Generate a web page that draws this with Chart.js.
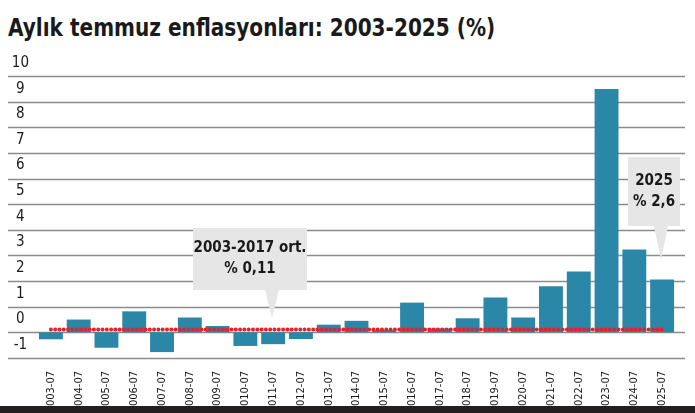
<!DOCTYPE html>
<html><head><meta charset="utf-8">
<script src="https://cdn.jsdelivr.net/npm/chart.js@4"></script>
<style>
html,body{margin:0;padding:0;background:#fff;width:695px;height:413px;overflow:hidden}
#t{position:absolute;left:8px;top:14px;font:bold 24px 'DejaVu Sans Condensed',sans-serif;color:#1a1a1a;transform:scaleX(0.93);transform-origin:left top;white-space:nowrap}
#wrap{position:absolute;left:0;top:0;width:695px;height:406px}
#bar{position:absolute;left:0;top:406px;width:695px;height:7px;background:#231f20}
</style></head><body>
<div id="t">Aylık temmuz enflasyonları: 2003-2025 (%)</div>
<div id="wrap"><canvas id="c"></canvas></div>
<div id="bar"></div>
<script>
const categories=["2003-07","2004-07","2005-07","2006-07","2007-07","2008-07","2009-07","2010-07","2011-07","2012-07","2013-07","2014-07","2015-07","2016-07","2017-07","2018-07","2019-07","2020-07","2021-07","2022-07","2023-07","2024-07","2025-07"];
const monthlyInflation=[-0.27,0.5,-0.6,0.82,-0.77,0.58,0.25,-0.53,-0.46,-0.26,0.3,0.45,0.09,1.16,0.15,0.55,1.36,0.58,1.8,2.37,9.49,3.23,2.06];
const average=categories.map(()=>0.11);
const yTicks=[-1,0,1,2,3,4,5,6,7,8,9,10];
const font="'DejaVu Sans Condensed',sans-serif";

const deco={id:'deco',
 beforeDatasetsDraw(ch){const c=ch.ctx,y=ch.scales.y;c.save();c.strokeStyle='#8c8c8c';c.lineWidth=1.3;
  yTicks.forEach(v=>{const p=Math.round(y.getPixelForValue(v))+0.5;c.beginPath();c.moveTo(8,p);c.lineTo(685,p);c.stroke();});c.restore();},
 afterDatasetsDraw(ch){const c=ch.ctx;c.save();
  function box(x,y,w,h,tx,ty,lines){c.fillStyle='#e6e6e6';c.fillRect(x,y,w,h);
   c.beginPath();c.moveTo(tx-7,y+h);c.lineTo(tx,ty);c.lineTo(tx+7,y+h);c.closePath();c.fill();
   c.fillStyle='#1a1a1a';c.font='bold 15px '+font;c.textAlign='center';c.textBaseline='middle';
   lines.forEach((l,i)=>c.fillText(l,x+w/2,y+h/2+(i-(lines.length-1)/2)*21));}
  box(193,228,114,62,272,318,['2003-2017 ort.','% 0,11']);
  box(628,157,52,69,661,260,['2025','% 2,6']);
  c.restore();}};

new Chart(document.getElementById('c'),{
 data:{labels:categories,datasets:[
  {type:'line',data:average,borderColor:'#e8202a',borderWidth:4,borderDash:[0,4.3],borderCapStyle:'round',pointRadius:0,order:0},
  {type:'bar',data:monthlyInflation,backgroundColor:'#2b87a8',barPercentage:0.86,categoryPercentage:1,order:1}]},
 options:{responsive:true,maintainAspectRatio:false,animation:false,devicePixelRatio:1,
  layout:{padding:{left:8,right:19,top:76,bottom:0}},
  plugins:{legend:{display:false},tooltip:{enabled:false}},
  scales:{
   y:{min:-1,max:10,afterFit(s){s.width=29;},
    afterBuildTicks(s){s.ticks=yTicks.map(v=>({value:v}));},
    grid:{display:false},border:{display:false},
    ticks:{crossAlign:'center',labelOffset:-13,padding:0,color:'#1a1a1a',font:{family:font,size:15}}},
   x:{grid:{display:false},border:{display:false},afterFit(s){s.height=48;},
    ticks:{minRotation:90,maxRotation:90,autoSkip:false,padding:5,color:'#1a1a1a',font:{family:font,size:11}}}}},
 plugins:[deco]});
</script></body></html>
